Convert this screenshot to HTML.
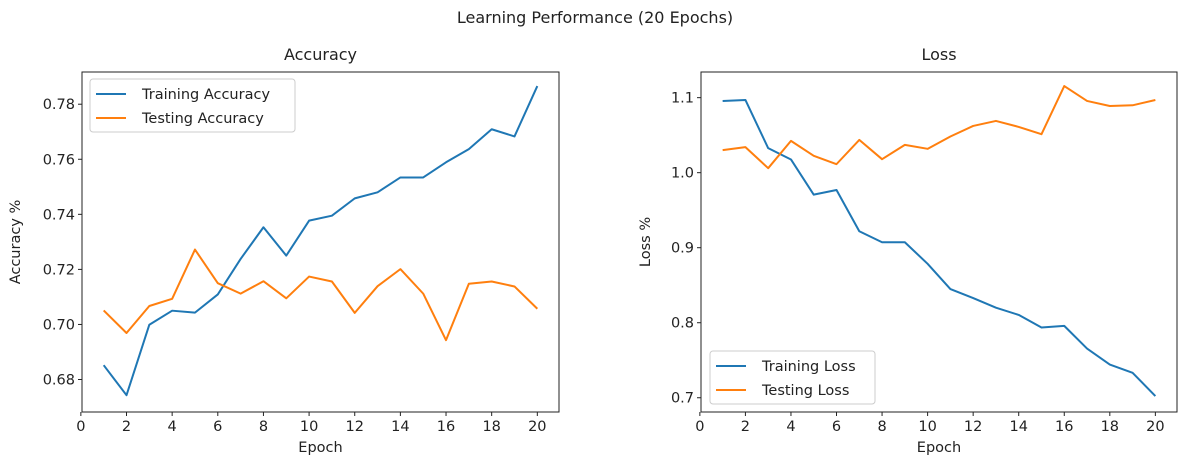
<!DOCTYPE html>
<html><head><meta charset="utf-8"><style>
body{margin:0;background:#fff;}
svg text{font-family:"DejaVu Sans","Liberation Sans",sans-serif;fill:#222;}
</style></head><body>
<svg id="fig" width="1189" height="468" xmlns="http://www.w3.org/2000/svg">
<text x="595" y="23" font-size="16" text-anchor="middle">Learning Performance (20 Epochs)</text>
</svg>
<script>
const epochs=[1,2,3,4,5,6,7,8,9,10,11,12,13,14,15,16,17,18,19,20];
const trainAcc=[0.6852,0.6743,0.6999,0.7050,0.7043,0.7109,0.7238,0.7353,0.7250,0.7377,0.7395,0.7458,0.7480,0.7534,0.7534,0.7589,0.7637,0.7709,0.7683,0.7866];
const testAcc=[0.7051,0.6969,0.7067,0.7093,0.7272,0.7150,0.7112,0.7157,0.7095,0.7174,0.7156,0.7042,0.7139,0.7201,0.7112,0.6943,0.7148,0.7156,0.7138,0.7057];
const trainLoss=[1.0956,1.0969,1.0327,1.0176,0.9707,0.9769,0.9219,0.9073,0.9073,0.8785,0.8449,0.8329,0.8200,0.8104,0.7936,0.7958,0.7656,0.7443,0.7333,0.7022];
const testLoss=[1.0300,1.0340,1.0060,1.0424,1.0225,1.0114,1.0437,1.0180,1.0371,1.0318,1.0482,1.0623,1.0690,1.0610,1.0513,1.1155,1.0956,1.0889,1.0898,1.0969];
const xTicks=[0,2,4,6,8,10,12,14,16,18,20];
const accTicks=[0.68,0.70,0.72,0.74,0.76,0.78];
const lossTicks=[0.7,0.8,0.9,1.0,1.1];
const NS="http://www.w3.org/2000/svg";
const svg=document.getElementById('fig');
function mk(tag,attrs,parent){const e=document.createElementNS(NS,tag);for(const k in attrs)e.setAttribute(k,attrs[k]);(parent||svg).appendChild(e);return e;}
function panel(o){
  const g=mk('g',{});
  
  
  const xs=v=>o.L+(v-0.05)/(20.9)*(o.R-o.L);
  const ys=v=>o.B-(v-o.ymin)/(o.ymax-o.ymin)*(o.B-o.T);
  xTicks.forEach(t=>{const x=xs(t);
    mk('line',{x1:x,x2:x,y1:o.B,y2:o.B+4,stroke:'#222'},g);
    const tx=mk('text',{x:x,y:o.B+19,'font-size':14.5,'text-anchor':'middle'},g);tx.textContent=t;
    
    });
  o.ticks.forEach(t=>{const y=ys(t);
    mk('line',{x1:o.L-4,x2:o.L,y1:y,y2:y,stroke:'#222'},g);
    const tx=mk('text',{x:o.L-7,y:y+5,'font-size':14.5,'text-anchor':'end'},g);tx.textContent=t.toFixed(o.dec);
    
    });
  const series=[[o.s1,'#1f77b4',o.n1],[o.s2,'#ff7f0e',o.n2]];
  series.forEach(([d,c,n])=>{
    const p=mk('polyline',{points:epochs.map((e,i)=>xs(e)+','+ys(d[i])).join(' '),fill:'none',stroke:c,'stroke-width':2,'stroke-linejoin':'round'},g);
    
    
  });
  mk('rect',{x:o.L,y:o.T,width:o.R-o.L,height:o.B-o.T,fill:'none',stroke:'#222','stroke-width':1},g);
  const tt=mk('text',{x:(o.L+o.R)/2,y:o.T-12,'font-size':16,'text-anchor':'middle'},g);tt.textContent=o.title;
  
  
  const xl=mk('text',{x:(o.L+o.R)/2,y:o.B+40,'font-size':14.5,'text-anchor':'middle'},g);xl.textContent='Epoch';
  
  
  const yl=mk('text',{x:0,y:0,'font-size':14.5,'text-anchor':'middle',transform:`translate(${o.ylx},${(o.T+o.B)/2}) rotate(-90)`},g);yl.textContent=o.ylabel;
  
  
  const lg=mk('g',{},g);
  
  
  mk('rect',{x:o.lx,y:o.ly,width:o.lw,height:53,rx:3,fill:'#fff','fill-opacity':0.8,stroke:'#ccc'},lg);
  series.forEach(([d,c,n],i)=>{const y=o.ly+15+i*24;
    mk('line',{x1:o.lx+6,x2:o.lx+36,y1:y,y2:y,stroke:c,'stroke-width':2},lg);
    const t=mk('text',{x:o.lx+52,y:y+5,'font-size':14.5},lg);t.textContent=n;
    
    });
}
panel({id:'accuracy',L:82,R:559,T:72,B:412,ymin:0.6682,ymax:0.7917,ticks:accTicks,dec:2,s1:trainAcc,s2:testAcc,n1:'Training Accuracy',n2:'Testing Accuracy',title:'Accuracy',ylabel:'Accuracy %',ylx:20,lx:90,ly:79,lw:205});
panel({id:'loss',L:701,R:1177,T:72,B:412,ymin:0.681,ymax:1.1342,ticks:lossTicks,dec:1,s1:trainLoss,s2:testLoss,n1:'Training Loss',n2:'Testing Loss',title:'Loss',ylabel:'Loss %',ylx:650,lx:710,ly:351,lw:165});
</script>
</body></html>
